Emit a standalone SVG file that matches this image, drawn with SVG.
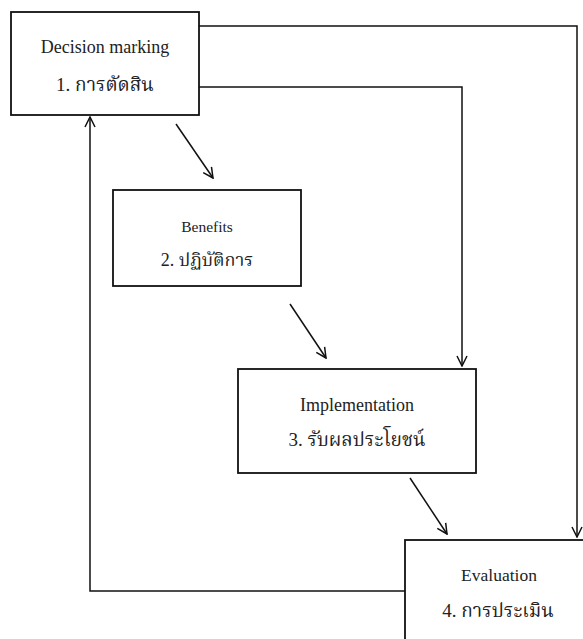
<svg xmlns="http://www.w3.org/2000/svg" width="583" height="639" viewBox="0 0 583 639">
<defs>
<marker id="arr" viewBox="0 0 12 12" refX="11" refY="6" markerWidth="12" markerHeight="12" markerUnits="userSpaceOnUse" orient="auto">
<path d="M1,1 L11,6 L1,11" fill="none" stroke="#111" stroke-width="1.5"/>
</marker>
<style>
.box{fill:#fff;stroke:#111;stroke-width:1.8}
.c{fill:none;stroke:#111;stroke-width:1.5}
.t{font-family:"Liberation Serif","Noto Serif Thai","Noto Sans Thai","DejaVu Serif",serif;fill:#222;text-anchor:middle}
</style>
</defs>
<rect width="583" height="639" fill="#fff"/>
<g id="connectors">
<polyline class="c" points="199,26 577,26 577,537" marker-end="url(#arr)"/>
<polyline class="c" points="199,87 462,87 462,366" marker-end="url(#arr)"/>
<polyline class="c" points="405,591 90,591 90,117" marker-end="url(#arr)"/>
<line class="c" x1="176" y1="124" x2="213" y2="178" marker-end="url(#arr)"/>
<line class="c" x1="290" y1="304" x2="326" y2="358" marker-end="url(#arr)"/>
<line class="c" x1="410" y1="478" x2="447" y2="534" marker-end="url(#arr)"/>
</g>
<g id="n1">
<rect class="box" x="11" y="12" width="188" height="103"/>
<text class="t" x="105" y="53" font-size="18">Decision marking</text>
<text class="t" x="105" y="91" font-size="19">1. การตัดสิน</text>
</g>
<g id="n2">
<rect class="box" x="113" y="190" width="188" height="96"/>
<text class="t" x="207" y="232" font-size="15.5">Benefits</text>
<text class="t" x="207" y="266" font-size="18">2. ปฏิบัติการ</text>
</g>
<g id="n3">
<rect class="box" x="238" y="369" width="238" height="104"/>
<text class="t" x="357" y="411" font-size="18">Implementation</text>
<text class="t" x="357" y="446" font-size="19">3. รับผลประโยชน์</text>
</g>
<g id="n4">
<rect class="box" x="405" y="540" width="190" height="110"/>
<text class="t" x="499" y="581" font-size="17.5">Evaluation</text>
<text class="t" x="498" y="617" font-size="19">4. การประเมิน</text>
</g>
</svg>
